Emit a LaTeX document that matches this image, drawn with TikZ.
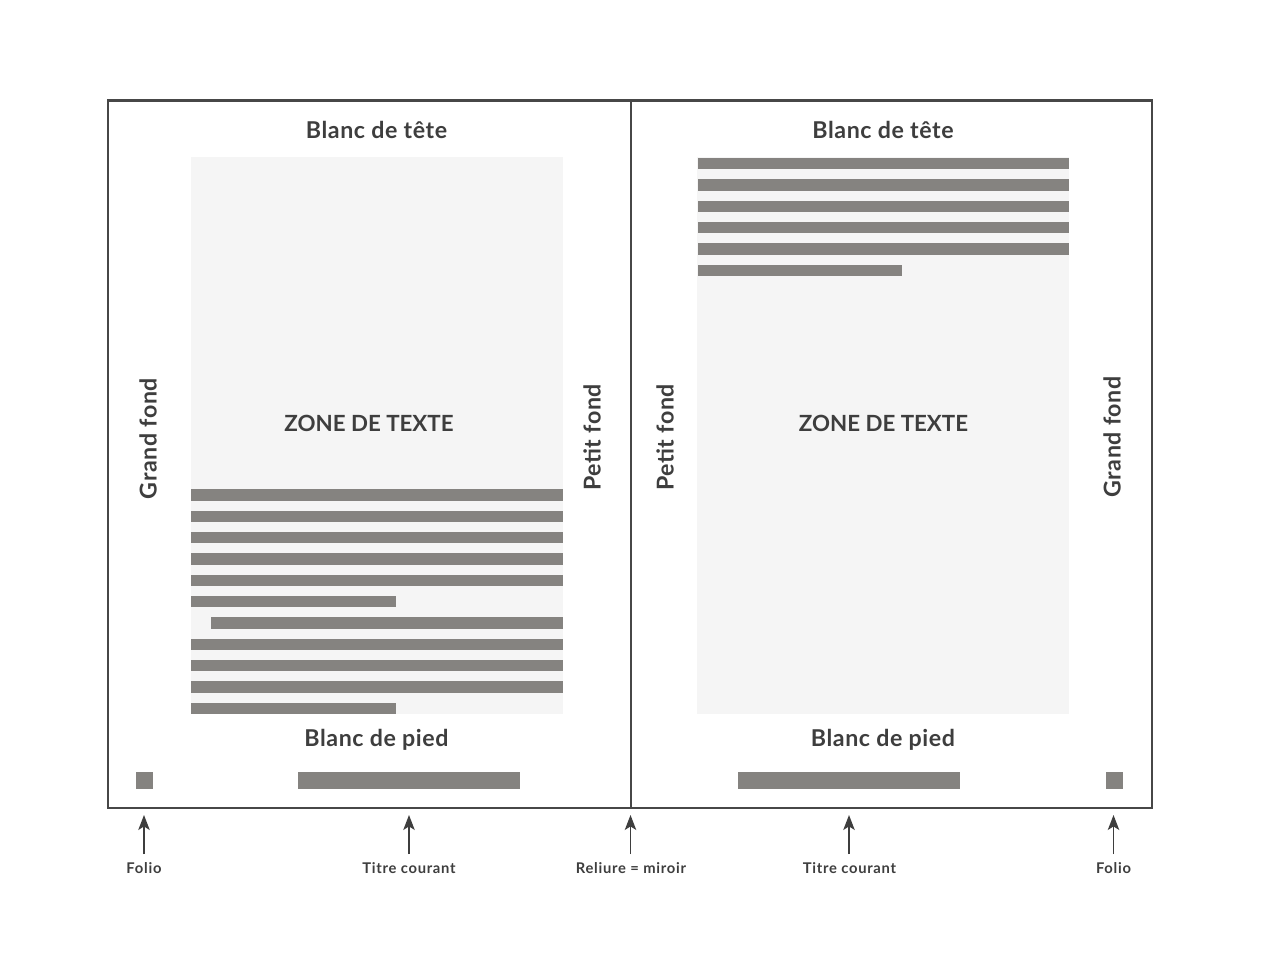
\documentclass[tikz,border=0pt]{standalone}
\usepackage{fontspec}
\setmainfont{Lato}
\usetikzlibrary{arrows.meta}
\definecolor{inkc}{HTML}{3E3E3E}
\definecolor{barc}{HTML}{858380}
\definecolor{zonec}{HTML}{F5F5F5}
\definecolor{framec}{HTML}{474747}
\tikzset{
  head/.style={font=\fontsize{13.2}{15}\selectfont\bfseries\addfontfeatures{LetterSpace=2.5}, text=inkc, inner sep=0pt},
  zonelabel/.style={font=\fontsize{12.7}{15}\selectfont\bfseries, text=inkc, inner sep=0pt},
  side/.style={head, rotate=90},
  small/.style={font=\fontsize{8.4}{10}\selectfont\bfseries\addfontfeatures{LetterSpace=5}, text=inkc, inner sep=0pt},
  bar/.style={fill=barc, draw=none},
  zone/.style={fill=zonec, draw=none},
  arr/.style={draw=inkc, line width=0.8pt, -{Stealth[length=8.5pt, width=6.5pt, inset=2pt]}},
  frame/.style={draw=framec, line width=1.15pt}
}
\begin{document}
\begin{tikzpicture}[x=0.02cm, y=-0.02cm]
\useasboundingbox[fill=white] (0,0) rectangle (1280,967);
% zones
\fill[zone] (191,157) rectangle (563,714);
\fill[zone] (697,157) rectangle (1069,714);
% left bars
\foreach \k in {0,1,2,3,4,7,8,9} {
  \fill[bar] (191,{489.3+21.33*\k}) rectangle (563,{500.8+21.33*\k});
}
\foreach \k in {5,10} {
  \fill[bar] (191,{489.3+21.33*\k}) rectangle (395.5,{500.8+21.33*\k});
}
\fill[bar] (210.7,{489.3+21.33*6}) rectangle (563,{500.8+21.33*6});
% right bars
\foreach \k in {0,1,2,3,4} {
  \fill[bar] (697.5,{157.7+21.4*\k}) rectangle (1069,{169.2+21.4*\k});
}
\fill[bar] (697.5,{157.7+21.4*5}) rectangle (902,{169.2+21.4*5});
% folio squares and running titles
\fill[bar] (135.7,772.3) rectangle (153,789);
\fill[bar] (1105.7,772.3) rectangle (1123,789);
\fill[bar] (298,772.3) rectangle (520,789);
\fill[bar] (738,772.3) rectangle (960,789);
% frame
\draw[frame] (108,100.5) rectangle (1152,808);
\draw[frame] (630.5,100.5) -- (630.5,808);
% texts
\node[head] (t1) at (376.5,129.5) {Blanc de tête};
\node[head] (t2) at (883,129.5) {Blanc de tête};
\node[zonelabel] (z1) at (369,423.5) {ZONE DE TEXTE};
\node[zonelabel] (z2) at (883.5,423.5) {ZONE DE TEXTE};
\node[head] (p1) at (376.5,739.5) {Blanc de pied};
\node[head] (p2) at (883,739.5) {Blanc de pied};
\node[side] (g1) at (148,438.5) {Grand fond};
\node[side] (pf1) at (592,437.5) {Petit fond};
\node[side] (pf2) at (665,437.5) {Petit fond};
\node[side] (g2) at (1112,437) {Grand fond};
% bottom labels
\node[small] (l1) at (144,868) {Folio};
\node[small] (l2) at (409,868) {Titre courant};
\node[small] (l3) at (631,868) {Reliure = miroir};
\node[small] (l4) at (849.5,868) {Titre courant};
\node[small] (l5) at (1113.5,868) {Folio};
% arrows
\coordinate (a1s) at (144,854); \coordinate (a1e) at (144,815);
\coordinate (a2s) at (409,854); \coordinate (a2e) at (409,815);
\coordinate (a3s) at (630.5,854); \coordinate (a3e) at (630.5,815);
\coordinate (a4s) at (849,854); \coordinate (a4e) at (849,815);
\coordinate (a5s) at (1113.5,854); \coordinate (a5e) at (1113.5,815);
\draw[arr] (a1s) -- (a1e);
\draw[arr] (a2s) -- (a2e);
\draw[arr] (a3s) -- (a3e);
\draw[arr] (a4s) -- (a4e);
\draw[arr] (a5s) -- (a5e);
\end{tikzpicture}
\end{document}
